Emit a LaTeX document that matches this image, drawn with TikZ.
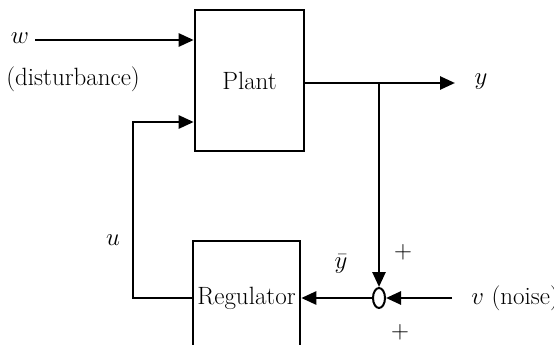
\documentclass[tikz,border=0pt]{standalone}
\usetikzlibrary{arrows.meta,shapes.geometric}
\begin{document}
\begin{tikzpicture}[x=1pt,y=-1pt,line width=2.6pt,
  arr/.style={-{Triangle[length=15pt,width=13pt]}},
  blockbox/.style={draw,line width=2.6pt,inner sep=0pt,font=\fontsize{25}{30}\selectfont},
  lbl/.style={inner sep=0pt,font=\fontsize{25}{30}\selectfont}]
\clip (0,0) rectangle (554,345);
\node[blockbox,minimum width=109pt,minimum height=141pt] (plant) at (249.5,80.5) {Plant};
\node[blockbox,minimum width=107pt,minimum height=114pt] (reg) at (246.5,298) {Regulator};
\node[draw,ellipse,line width=2pt,inner sep=0pt,minimum width=12pt,minimum height=20pt] (sum) at (379,298) {};
\coordinate (win) at (35,40);
\coordinate (yout) at (455,83);
\coordinate (br) at (379,83);
\coordinate (vin) at (452,298);
\coordinate (cu) at (133,122);
\draw[arr] (win) -- (win -| plant.west);
\draw[arr] (yout -| plant.east) -- (yout);
\draw[arr] (br) -- (sum.north);
\draw[arr] (vin) -- (sum.east);
\draw[arr] (sum.west) -- (reg.east);
\draw[arr] (reg.west) -| (cu) -- (cu -| plant.west);
\node[lbl] (wl) at (20,38) {$w$};
\node[lbl,anchor=west] (dl) at (5,79) {(disturbance)};
\node[lbl] (yl) at (481,82) {$y$};
\node[lbl] (ul) at (113,240) {$u$};
\node[lbl] (ybl) at (341,264) {$\bar y$};
\node[lbl,font=\fontsize{24}{28}\selectfont] (p1) at (403,252) {$+$};
\node[lbl,font=\fontsize{24}{28}\selectfont] (p2) at (400,332) {$+$};
\node[lbl,anchor=west] (vl) at (470,298) {$v$ (noise)};
\end{tikzpicture}
\end{document}
